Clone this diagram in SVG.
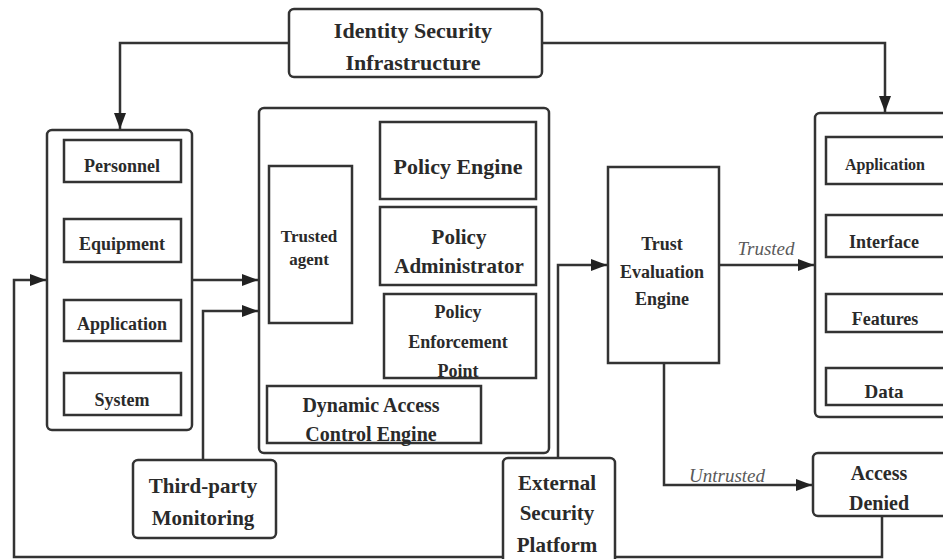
<svg xmlns="http://www.w3.org/2000/svg" width="943" height="559" viewBox="0 0 943 559">
<style>
.box{fill:#fff;stroke:#333;stroke-width:2.5}
.in{fill:#fff;stroke:#333;stroke-width:2.5}
.t{font-family:"Liberation Serif","Times New Roman",serif;font-weight:bold;fill:#2a2a2a;text-anchor:middle}
.lbl{font-family:"Liberation Serif","Times New Roman",serif;font-style:italic;fill:#5a5a5a;text-anchor:middle;font-size:19px}
.c{fill:none;stroke:#333;stroke-width:2.5}
</style>
<defs>
<marker id="ah" markerUnits="userSpaceOnUse" markerWidth="18" markerHeight="14" refX="16" refY="6" orient="auto">
<path d="M0,0 L16,6 L0,12 z" fill="#222"/>
</marker>
</defs>
<rect width="943" height="559" fill="#fff"/>

<g id="connectors">
<path class="c" d="M289,43 H120 V129" marker-end="url(#ah)"/>
<path class="c" d="M542,43 H885 V112" marker-end="url(#ah)"/>
<path class="c" d="M192,280 H258" marker-end="url(#ah)"/>
<path class="c" d="M882,516 V557 H14 V280 H46" marker-end="url(#ah)"/>
<path class="c" d="M203,460 V311 H258" marker-end="url(#ah)"/>
<path class="c" d="M352,188 H367 V160 H379" marker-end="url(#ah)"/>
<path class="c" d="M352,246 H379" marker-end="url(#ah)"/>
<path class="c" d="M352,287 H367 V337 H383" marker-end="url(#ah)"/>
<path class="c" d="M311,323 V355 H374 V385" marker-end="url(#ah)"/>
<path class="c" d="M558,458 V265 H607" marker-end="url(#ah)"/>
<path class="c" d="M719,265 H814" marker-end="url(#ah)"/>
<path class="c" d="M664,363 V485 H812" marker-end="url(#ah)"/>
<text class="lbl" x="766" y="255">Trusted</text>
<text class="lbl" x="727" y="482">Untrusted</text>
</g>

<g id="identity">
<rect class="box" x="289" y="9" width="253" height="68" rx="5"/>
<text class="t" x="413" y="38" font-size="22">Identity Security</text>
<text class="t" x="413" y="70" font-size="22">Infrastructure</text>
</g>

<g id="subjects">
<rect class="box" x="47" y="130" width="145" height="300" rx="5"/>
<rect class="in" x="64" y="140" width="117" height="42"/>
<text class="t" x="122" y="172" font-size="18">Personnel</text>
<rect class="in" x="64" y="219" width="117" height="43"/>
<text class="t" x="122" y="250" font-size="18">Equipment</text>
<rect class="in" x="64" y="300" width="117" height="41"/>
<text class="t" x="122" y="330" font-size="18">Application</text>
<rect class="in" x="64" y="373" width="117" height="42"/>
<text class="t" x="122" y="406" font-size="18">System</text>
</g>

<g id="control-plane">
<rect class="box" x="259" y="108" width="290" height="345" rx="5"/>
</g>

<g id="trusted-agent">
<rect class="in" x="269" y="166" width="83" height="157"/>
<text class="t" x="309" y="242" font-size="17">Trusted</text>
<text class="t" x="309" y="265" font-size="17">agent</text>
</g>

<g id="policy-engine">
<rect class="in" x="380" y="122" width="156" height="77"/>
<text class="t" x="458" y="174" font-size="22">Policy Engine</text>
</g>

<g id="policy-administrator">
<rect class="in" x="380" y="207" width="156" height="78"/>
<text class="t" x="459" y="244" font-size="21">Policy</text>
<text class="t" x="459" y="273" font-size="21">Administrator</text>
</g>

<g id="policy-enforcement-point">
<rect class="in" x="384" y="294" width="152" height="84"/>
<text class="t" x="458" y="318" font-size="18">Policy</text>
<text class="t" x="458" y="348" font-size="18">Enforcement</text>
<text class="t" x="458" y="377" font-size="18">Point</text>
</g>

<g id="dynamic-access-control-engine">
<rect class="in" x="267" y="386" width="214" height="57"/>
<text class="t" x="371" y="412" font-size="20">Dynamic Access</text>
<text class="t" x="371" y="441" font-size="20">Control Engine</text>
</g>

<g id="trust-evaluation-engine">
<rect class="in" x="608" y="167" width="111" height="196"/>
<text class="t" x="662" y="250" font-size="18">Trust</text>
<text class="t" x="662" y="278" font-size="18">Evaluation</text>
<text class="t" x="662" y="305" font-size="18">Engine</text>
</g>

<g id="resources">
<rect class="box" x="815" y="113" width="140" height="304" rx="5"/>
<rect class="in" x="826" y="137" width="125" height="47"/>
<text class="t" x="885" y="170" font-size="16">Application</text>
<rect class="in" x="826" y="215" width="125" height="42"/>
<text class="t" x="884" y="248" font-size="18">Interface</text>
<rect class="in" x="826" y="294" width="125" height="38"/>
<text class="t" x="885" y="325" font-size="18">Features</text>
<rect class="in" x="826" y="368" width="125" height="37"/>
<text class="t" x="884" y="398" font-size="19">Data</text>
</g>

<g id="third-party-monitoring">
<rect class="box" x="133" y="460" width="143" height="78" rx="5"/>
<text class="t" x="203" y="493" font-size="21">Third-party</text>
<text class="t" x="203" y="525" font-size="21">Monitoring</text>
</g>

<g id="external-security-platform">
<rect class="box" x="503" y="458" width="112" height="110" rx="5"/>
<text class="t" x="557" y="490" font-size="21">External</text>
<text class="t" x="557" y="520" font-size="21">Security</text>
<text class="t" x="557" y="552" font-size="21">Platform</text>
</g>

<g id="access-denied">
<rect class="box" x="813" y="453" width="140" height="63" rx="5"/>
<text class="t" x="879" y="480" font-size="20">Access</text>
<text class="t" x="879" y="510" font-size="20">Denied</text>
</g>
</svg>
